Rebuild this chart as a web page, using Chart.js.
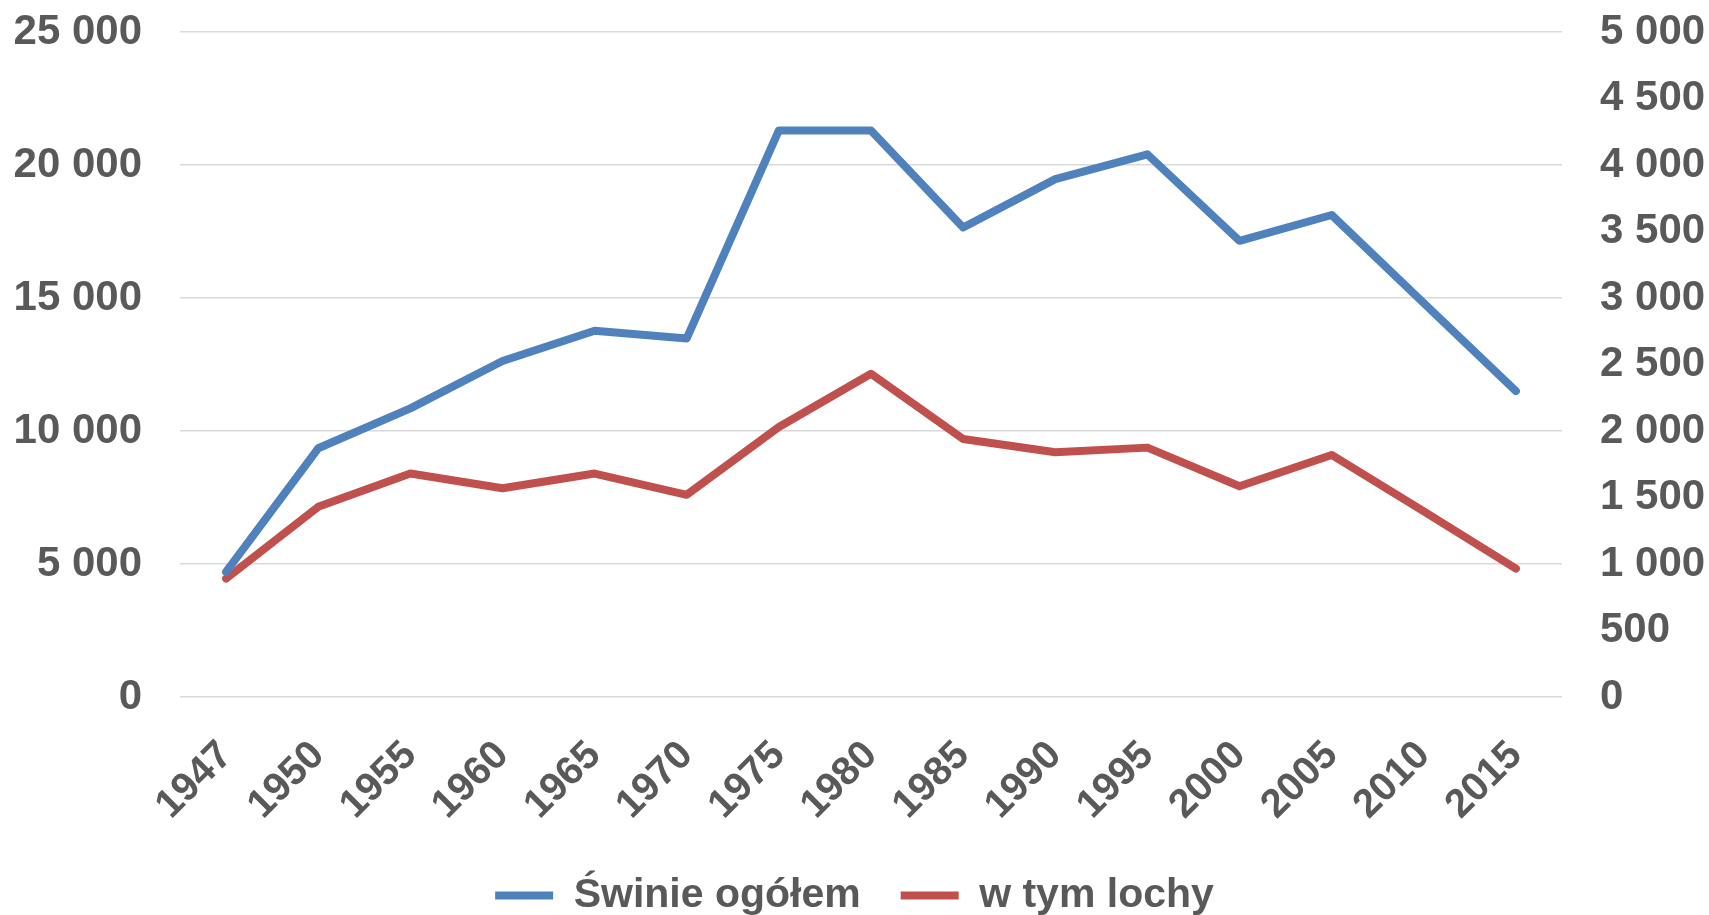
<!DOCTYPE html>
<html>
<head>
<meta charset="utf-8">
<script src="https://cdn.jsdelivr.net/npm/chart.js@4"></script>
<style>
  html, body { margin: 0; padding: 0; background: #fff; }
  #wrap { width: 1709px; height: 915px; }
</style>
</head>
<body>
<div id="wrap"><canvas id="chart"></canvas></div>
<script>
// data
var years = ["1947", "1950", "1955", "1960", "1965", "1970", "1975", "1980",
             "1985", "1990", "1995", "2000", "2005", "2010", "2015"];
var swinieOgolem = [4700, 9350, 10850, 12630, 13770, 13480, 21300, 21300,
                    17650, 19470, 20400, 17150, 18120, 14810, 11500];
var lochy = [890, 1430, 1680, 1570, 1680, 1520, 2030, 2430,
             1940, 1840, 1875, 1585, 1820, 1395, 965];
var leftTicks = { min: 0, max: 25000, step: 5000 };
var rightTicks = { min: 0, max: 5000, step: 500 };

var grey = "#595959";
var fmt = (v) => String(v).replace(/\B(?=(\d{3})+(?!\d))/g, " ");

var canvas = document.getElementById("chart");
var config = {
    type: "line",
    data: {
        labels: years,
        datasets: [
            {
                label: "Świnie ogółem",
                data: swinieOgolem,
                yAxisID: "y",
                borderColor: "#4F81BD",
                backgroundColor: "#4F81BD",
                borderWidth: 8,
                borderCapStyle: "round",
                borderJoinStyle: "round",
                pointRadius: 0,
                tension: 0
            },
            {
                label: "w tym lochy",
                data: lochy,
                yAxisID: "y2",
                borderColor: "#C0504D",
                backgroundColor: "#C0504D",
                borderWidth: 8,
                borderCapStyle: "round",
                borderJoinStyle: "round",
                pointRadius: 0,
                tension: 0
            }
        ]
    },
    options: {
        animation: { duration: 0 },
        responsive: true,
        maintainAspectRatio: false,
        layout: { padding: { top: 32, left: 0, right: 0, bottom: -11 } },
        plugins: {
            tooltip: { enabled: false },
            legend: {
                display: true,
                position: "bottom",
                labels: {
                    color: grey,
                    usePointStyle: true,
                    pointStyle: "line",
                    pointStyleWidth: 58,
                    padding: 40,
                    font: { family: "'Liberation Sans', Arial", size: 41, weight: "bold" }
                }
            }
        },
        scales: {
            x: {
                offset: true,
                grid: { display: false },
                border: { display: false },
                ticks: {
                    color: grey,
                    minRotation: 45,
                    maxRotation: 45,
                    padding: 27,
                    font: { family: "'Liberation Sans', Arial", size: 40, weight: "bold" }
                },
                afterFit: (s) => { s.height = 138; }
            },
            y: {
                position: "left",
                min: leftTicks.min,
                max: leftTicks.max,
                grid: { color: "#D9D9D9", lineWidth: 1.5, drawTicks: false },
                border: { display: false },
                ticks: {
                    stepSize: leftTicks.step,
                    color: grey,
                    padding: 38,
                    font: { family: "'Liberation Sans', Arial", size: 42, weight: "bold" },
                    callback: (v) => fmt(v)
                },
                afterFit: (s) => { s.width = 180; s.paddingTop = 0; s.paddingBottom = 0; }
            },
            y2: {
                position: "right",
                min: rightTicks.min,
                max: rightTicks.max,
                grid: { drawOnChartArea: false, drawTicks: false },
                border: { display: false },
                ticks: {
                    stepSize: rightTicks.step,
                    color: grey,
                    padding: 38,
                    font: { family: "'Liberation Sans', Arial", size: 42, weight: "bold" },
                    callback: (v) => fmt(v)
                },
                afterFit: (s) => { s.width = 147; s.paddingTop = 0; s.paddingBottom = 0; }
            }
        }
    }
};

new Chart(canvas, config);
</script>
</body>
</html>
